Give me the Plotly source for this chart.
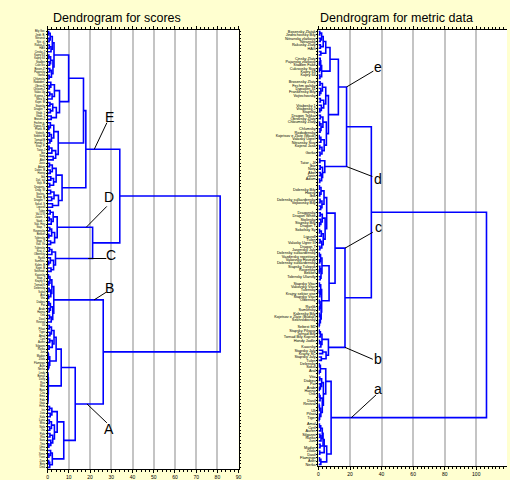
import plotly.graph_objects as go

# ------------------------------------------------------------------
# Panel 1: Dendrogram for scores  (leaf order top -> bottom)
# ------------------------------------------------------------------
SCORE_LABELS = [
    "Bily Gor.", "Jindr. B.", "Nitransk", "Nitr. zl.", "Rakus.Zl", "HAG",
    "Cinsky Z", "Kapry 63", "Kapry 64", "Stadlen", "Cukr.Siv", "Bosen.Zl",
    "Pajansky", "Gorka", "Chlumsky", "Rododen.", "Obrov.Zl", "Chloum.Z",
    "Valas.Ug", "Kojeno J", "Nitra Si", "Kojet. M", "Stapsky", "Dragon T",
    "Vitab. 1", "Vitab. 2", "Brosen.Z", "Fechm g.", "Dypas.31", "Frank. B",
    "Vojtech.", "Sebest M", "Tornad B", "Hondy J.", "Stap. P.", "Tator-J",
    "Ibiz", "Noty", "Abel", "Jasis", "Adam", "Dolen. B", "Hoevy", "Ibik", "Dol. sul",
    "Vojk. B", "Dragons.", "Drag. W", "Stolins.", "Stap. B", "Dragon T",
    "Sokol. S", "Liguroll", "Tulen", "Val.U III", "Jasen. J", "Vazd. r.",
    "Vak. Hov", "Stap. T", "Rovensky", "Bekker", "Tolensky", "Stap. V",
    "Vak. Vit", "Tulensky", "Kraj. s.", "Olbensky", "Ryzlik", "Sumlins.",
    "Kalen. B", "Kojet. B", "Sekhrod.", "Kaavsky", "Stap. J", "Krajny S",
    "Tornad K", "Delensky", "Sokol", "Aral", "Vita", "Diabeu", "Pat", "Arabi", "Hanna",
    "Orik", "Dasil", "Revival", "Uli", "Pilsat", "Tiger", "Amal", "Cyril", "Auren",
    "Silganni", "Rizika", "Juni", "Madon", "Zilola", "Flamingo", "Aser", "Nerka", "Lindy",
    "Bonus", "Dolly", "Rex", "Max", "Bara", "Cita", "Ema", "Fido", "Gaja", "Hera", "Iris",
    "Jura", "Kala", "Luna", "Mira", "Nela", "Ota", "Pola", "Rita", "Sara", "Tina", "Uma",
    "Vera", "Xena", "Yvon", "Zora", "Bety", "Dina",
]

# merges: [height, child, child]; leaves are indices into SCORE_LABELS
S_G1 = [3.0, [2.2, [1.2, [0.5, 0, 1], [0.7, 2, 3]], [1.6, [0.8, 4, 5], 6]],
        [2.5, [1.4, [0.6, 7, 8], [0.9, 9, 10]], [1.8, [1.0, 11, 12], [0.7, 13, 14]]]]
S_G2 = [5.6, [3.2, [1.5, 15, [0.8, 16, 17]], [2.1, [1.0, 18, 19], 20]],
        [4.1, [2.4, [1.1, 21, 22], [1.3, 23, 24]], [1.7, 25, 26]]]
S_E1A = [9.9, S_G1, S_G2]
S_G3 = [5.0, [2.9, [1.3, 27, [0.6, 28, 29]], [1.8, [0.9, 30, 31], [1.1, 32, 33]]],
        [3.8, [2.0, [0.7, 34, 35], 36], [2.6, 37, 38]]]
S_E1 = [16.9, S_E1A, S_G3]
S_G4 = [6.8, [4.0, [2.2, [0.9, 39, 40], [1.2, 41, 42]], [2.8, [1.5, 43, 44], [1.0, 45, 46]]],
        [5.1, [3.0, [1.4, 47, 48], [1.9, 49, 50]], [2.3, 51, 52]]]
S_E = [18.0, S_E1, S_G4]
S_D1 = [4.5, [2.6, [1.2, 53, 54], [1.7, [0.8, 55, 56], 57]],
        [3.3, [1.9, [1.0, 58, 59], [0.6, 60, 61]], [1.4, 62, 63]]]
S_C = [3.7, [2.0, [0.9, 64, 65], 66], [2.8, [1.3, 67, [0.5, 68, 69]], [1.6, 70, 71]]]
S_D = [21.2, S_D1, S_C]
S_TOP = [34.0, S_E, S_D]
S_B = [2.9, [2.0, [1.1, [0.4, 72, 73], [0.6, 74, 75]], [1.5, [0.7, 76, 77], [0.5, 78, 79]]],
       [2.4, [1.3, [0.6, 80, 81], [0.8, 82, 83]], [1.7, [0.9, 84, 85], 86]]]
S_A1A = [4.0, [3.0, [1.8, [0.8, 87, 88], [1.1, 89, 90]], [2.2, [1.0, 91, 92], [0.7, 93, 94]]],
         [1.0, [0.4, [0.2, 95, 96], 97], [0.6, 98, [0.3, 99, 100]]]]
S_A1B = [0.35, [0.2, [0.1, 101, 102], [0.1, 103, 104]],
         [0.25, [0.1, 105, [0.05, 106, 107]], [0.15, 108, [0.1, 109, 110]]]]
S_A1 = [6.4, S_A1A, S_A1B]
S_A2A = [4.5, [2.0, [0.9, 111, 112], [1.2, 113, 114]],
         [3.2, [1.8, [0.8, 115, 116], [1.0, 117, 118]], [2.4, [1.1, 119, 120], [1.5, 121, [0.6, 122, 123]]]]]
S_A2B = [2.2, [1.4, 124, [0.6, 125, 126]], [1.0, [0.5, 127, 128], 129]]
S_A2 = [7.6, S_A2A, S_A2B]
S_A = [13.0, S_A1, S_A2]
S_BOTTOM = [26.2, S_B, S_A]
SCORE_TREE = [81.3, S_TOP, S_BOTTOM]

# ------------------------------------------------------------------
# Panel 2: Dendrogram for metric data
# ------------------------------------------------------------------
METRIC_LABELS = [
    "Bosensky Zlatak", "Jindrichovsky Bily", "Nitransky zlatkovy", "Nitransky", "Rakusky Zlaty",
    "HAG", "", "", "Cinsky Zlaty", "Pajansky zlatkovy", "Stadlen Fake", "Cukrovsky Sivy",
    "Kapry 63", "Kapry 64", "", "Brosensky Zlaty", "Fechm galsky", "Dypasen 31",
    "Frankensky Bily", "Vojtechovsky", "", "", "Vitabesky 1", "Vitabesky 2", "Stapsky",
    "Dragon Tekkai", "Obrovsky Zlaty", "Chloumsky Zlaty", "", "Chlumsky", "Rododensky",
    "Kojetsov e Zlate (Mauk)", "Valasky Ugrer", "Nitransky Sivy", "Kojeno Jasa", "", "Gorka",
    "", "", "Tator - Jil", "Ibiz", "Noty", "Abel", "Jasis", "Adam", "", "",
    "Dolensky Bily", "Hoevy", "Ibik", "Dolensky sulkardensky", "Vojkovsky Bily", "", "",
    "Dragonsky", "Dragon White", "Stolinsky", "Stapsky Bily", "Dragon T", "Sokolsky Sy", "",
    "Liguroll", "Tulen", "Valasky Ugrer III", "Dragon T", "Jasensky Jaly",
    "Dolensky sulkardensky", "Vazdinsky repetitory", "Vakovsky Hovedy",
    "Dolensky sulkardensky", "Stapsky Tulepsk", "Rovensky", "Bekker", "Tolensky Ularstly", "",
    "Stapsky Vitar", "Vakovsky Vitar", "Tulensky", "Krajny sektor vise", "Stapsky Vitar",
    "Olbensky", "", "Ryzlik", "Sumlinsky", "Kalensky Bily", "Kojetsov e Zlate (Budak)",
    "Sekhrodovsky", "", "Sebest M2", "Stapsky Pilsovy", "Tornad Bily", "Tornad Bily Koprov",
    "Hondy Jodlin", "", "Kaavsky", "Stapsky Jaly", "Krajny SC", "Stapsky Jaly", "Tulen",
    "Delensky", "Sokol", "Aral", "", "Vita", "Diabeu", "Pat", "Arabi", "Hanna", "Orik", "",
    "Dasil", "Revival", "", "Uli", "Pilsat", "Tiger", "", "Amal", "Cyril", "Auren",
    "Silganni", "Rizika", "Juni", "", "Madon", "Zilola", "Dasil", "Flamingo", "Aser", "Nerka",
]

M_E1A = [4.6, [3.0, [2.0, [0.8, 0, 1], [1.1, 2, 3]], [1.2, 4, 5]], [1.5, 6, 7]]
M_E1B = [2.0, [1.4, [1.1, 8, [0.5, 9, 10]], [0.6, 11, 12]], [0.9, 13, 14]]
M_E1 = [7.3, M_E1A, M_E1B]
M_E2A = [4.6, [2.5, [1.0, 15, 16], [1.5, 17, [0.7, 18, 19]]],
         [3.3, [1.2, 20, 21], [1.8, 22, [0.9, 23, 24]]]]
M_E2B = [5.0, [2.8, [1.2, 25, 26], [1.6, [0.7, 27, 28], [1.0, 29, 30]]],
         [3.6, [1.5, [0.5, 31, 32], 33], [2.2, [0.8, 34, 35], [1.0, 36, 37]]]]
M_E2 = [6.3, M_E2A, M_E2B]
M_E = [12.6, M_E1, M_E2]
M_D = [4.0, [0.9, 38, 39], [2.6, [1.1, 40, 41], [2.0, [1.2, 42, 43], [0.8, 44, 45]]]]
M_ED = [17.8, M_E, M_D]
M_C1A = [3.5, [1.6, [0.6, 46, 47], [0.8, 48, 49]], [2.2, [1.0, 50, 51], [1.4, 52, 53]]]
M_C1B = [4.2, [2.4, [1.1, 54, 55], [1.5, 56, [0.6, 57, 58]]],
         [3.0, [1.8, [0.7, 59, 60], 61], [2.1, [1.0, 62, 63], [0.9, 64, 65]]]]
M_C1 = [5.2, M_C1A, M_C1B]
M_C2A = [2.2, [1.3, [0.5, 66, 67], [0.8, 68, 69]], [1.6, [0.9, 70, [0.4, 71, 72]], [1.1, 73, 74]]]
M_C2B = [2.0, [1.4, [0.6, 75, 76], [0.9, [0.3, 77, 78], 79]],
         [1.7, [1.0, [0.4, 80, 81], [0.5, 82, 83]], [1.2, [0.7, 84, 85], [0.6, 86, [0.3, 87, 88]]]]]
M_C2 = [6.7, M_C2A, M_C2B]
M_C = [10.5, M_C1, M_C2]
M_B1 = [2.2, [1.2, [0.5, 89, 90], 91], [1.5, [0.6, 92, 93], 94]]
M_B2 = [4.8, [2.6, 95, 96], [1.8, 97, 98]]
M_B = [6.3, M_B1, M_B2]
M_CB = [16.8, M_C, M_B]
M_UPPER = [33.5, M_ED, M_CB]
M_A1A = [1.2, [0.5, 99, 100], [0.4, 101, 102]]
M_A1B = [3.1, [2.0, [0.8, 103, 104], [1.2, 105, [0.5, 106, 107]]],
         [2.4, [1.0, [0.4, 108, 109], 110],
          [1.5, [0.6, [0.3, 111, 112], 113], [0.7, 114, [0.3, 115, 116]]]]]
M_A1 = [4.6, M_A1A, M_A1B]
M_A2A = [3.6, [2.9, [2.4, [1.4, [0.6, 117, 118], 119], [1.6, [0.9, 120, 121], 122]],
               [1.0, 123, 124]],
         [0.8, 125, 126]]
M_A2B = [1.5, [0.6, 127, 128], 129]
M_A2 = [5.2, M_A2A, M_A2B]
M_A = [8.0, M_A1, M_A2]
METRIC_TREE = [106.5, M_UPPER, M_A]

# cluster letters: (text, cluster, parent, position along branch,
#                   leader end dx, dy [px], text dx, dy [px])
SCORE_MARKS = [("E", S_E, S_TOP, 0.25, 12.7, -26.7, 15.7, -32),
               ("D", S_D1, S_D, 0.82, 20.7, -21, 23.3, -30.3),
               ("C", S_C, S_D, 0.88, 18.3, 0, 22.6, -3.3),
               ("B", S_B, S_BOTTOM, 0.815, 12, -7.6, 15.3, -12),
               ("A", S_A, S_BOTTOM, 0.42, 20, 19, 22.6, 25)]
METRIC_MARKS = [("e", M_E, M_ED, 1.0, 27, -16, 31.7, -20),
                ("d", M_D, M_ED, 1.0, 26, 10, 31.7, 12.3),
                ("c", M_C, M_CB, 1.0, 28, -16, 33.3, -21),
                ("b", M_B, M_CB, 1.0, 28, 12, 33.3, 11.7),
                ("a", M_A, METRIC_TREE, 0.13, 25, -23, 26.7, -29)]


def walk(node, xs, ys, pos):
    if isinstance(node, int):
        return 0.0, float(node)
    h, a, b = node
    ha, ya = walk(a, xs, ys, pos)
    hb, yb = walk(b, xs, ys, pos)
    xs += [ha, h, h, hb, None]
    ys += [ya, ya, yb, yb, None]
    mid = (ya + yb) / 2
    pos[id(node)] = (h, mid)
    return h, mid


W, H = 510, 480
FONT = "Liberation Sans, Arial, sans-serif"
BLUE = "#0000FF"

# axis geometry (pixels)
L_X0, L_X1, L_XR = 47, 239.5, 90
L_Y0, L_Y1 = 30, 472
R_X0, R_X1, R_XR = 320, 510, 119.5
R_Y0, R_Y1 = 30, 469

fig = go.Figure()
annotations = []

panels = [
    (SCORE_TREE, SCORE_LABELS, SCORE_MARKS, "x", "y", (L_X1 - L_X0) / L_XR,
     (L_Y1 - L_Y0) / len(SCORE_LABELS)),
    (METRIC_TREE, METRIC_LABELS, METRIC_MARKS, "x2", "y2", (R_X1 - R_X0) / R_XR,
     (R_Y1 - R_Y0) / len(METRIC_LABELS)),
]
for tree, labels, marks, xa, ya, ppx, ppy in panels:
    xs, ys, pos = [], [], {}
    walk(tree, xs, ys, pos)
    fig.add_trace(go.Scatter(x=xs, y=ys, mode="lines", xaxis=xa, yaxis=ya,
                             line=dict(color=BLUE, width=1.6), hoverinfo="skip",
                             showlegend=False))
    lx, ly = [], []
    for txt, node, parent, frac, ex, ey, tx, ty in marks:
        h, m = pos[id(node)]
        hp = pos[id(parent)][0]
        x0 = h + frac * (hp - h)
        lx += [x0, x0 + ex / ppx, None]
        ly += [m, m + ey / ppy, None]
        annotations.append(dict(x=x0 + tx / ppx, y=m + ty / ppy, xref=xa, yref=ya, text=txt,
                                showarrow=False, xanchor="center", yanchor="middle",
                                font=dict(family=FONT, size=14, color="black")))
    fig.add_trace(go.Scatter(x=lx, y=ly, mode="lines", xaxis=xa, yaxis=ya,
                             line=dict(color="black", width=1), hoverinfo="skip",
                             showlegend=False, cliponaxis=False))

annotations += [
    dict(text="Dendrogram for scores", x=50 / W, y=1 - 18 / H, xref="paper", yref="paper",
         xanchor="left", yanchor="middle", showarrow=False,
         font=dict(family=FONT, size=12.5, color="black")),
    dict(text="Dendrogram for metric data", x=320 / W, y=1 - 18 / H, xref="paper",
         yref="paper", xanchor="left", yanchor="middle", showarrow=False,
         font=dict(family=FONT, size=12.5, color="black")),
]

xcommon = dict(showgrid=True, gridcolor="#C4C4C4", gridwidth=1.5, zeroline=False,
               showline=True, linecolor="black", linewidth=1, mirror="allticks",
               ticks="outside", ticklen=3, tickcolor="black",
               tickfont=dict(family=FONT, size=5, color="black"))
ycommon = dict(showgrid=False, zeroline=False, showline=True, linecolor="black",
               linewidth=1, ticks="outside", ticklen=1, tickcolor="black",
               tickmode="array")

fig.update_layout(
    width=W, height=H, margin=dict(l=0, r=0, t=0, b=0),
    paper_bgcolor="#FFFFD0", plot_bgcolor="white",
    annotations=annotations, showlegend=False,
    xaxis=dict(domain=[L_X0 / W, L_X1 / W], range=[0, L_XR], dtick=10, anchor="y",
               minor=dict(dtick=2, ticks="outside", ticklen=2, tickcolor="black",
                          showgrid=False), **xcommon),
    yaxis=dict(domain=[1 - L_Y1 / H, 1 - L_Y0 / H], range=[len(SCORE_LABELS) - 0.5, -0.5],
               anchor="x", mirror="allticks",
               tickvals=list(range(len(SCORE_LABELS))), ticktext=SCORE_LABELS,
               tickfont=dict(family=FONT, size=2.7, color="black"), **ycommon),
    xaxis2=dict(domain=[R_X0 / W, R_X1 / W], range=[0, R_XR], dtick=20, anchor="y2",
                minor=dict(dtick=2.5, ticks="outside", ticklen=2, tickcolor="black",
                           showgrid=False), **xcommon),
    yaxis2=dict(domain=[1 - R_Y1 / H, 1 - R_Y0 / H], range=[len(METRIC_LABELS) - 0.5, -0.5],
                anchor="x2", mirror=False,
                tickvals=list(range(len(METRIC_LABELS))), ticktext=METRIC_LABELS,
                tickfont=dict(family=FONT, size=3.8, color="black"), **ycommon),
)

fig.write_html("out.html")
